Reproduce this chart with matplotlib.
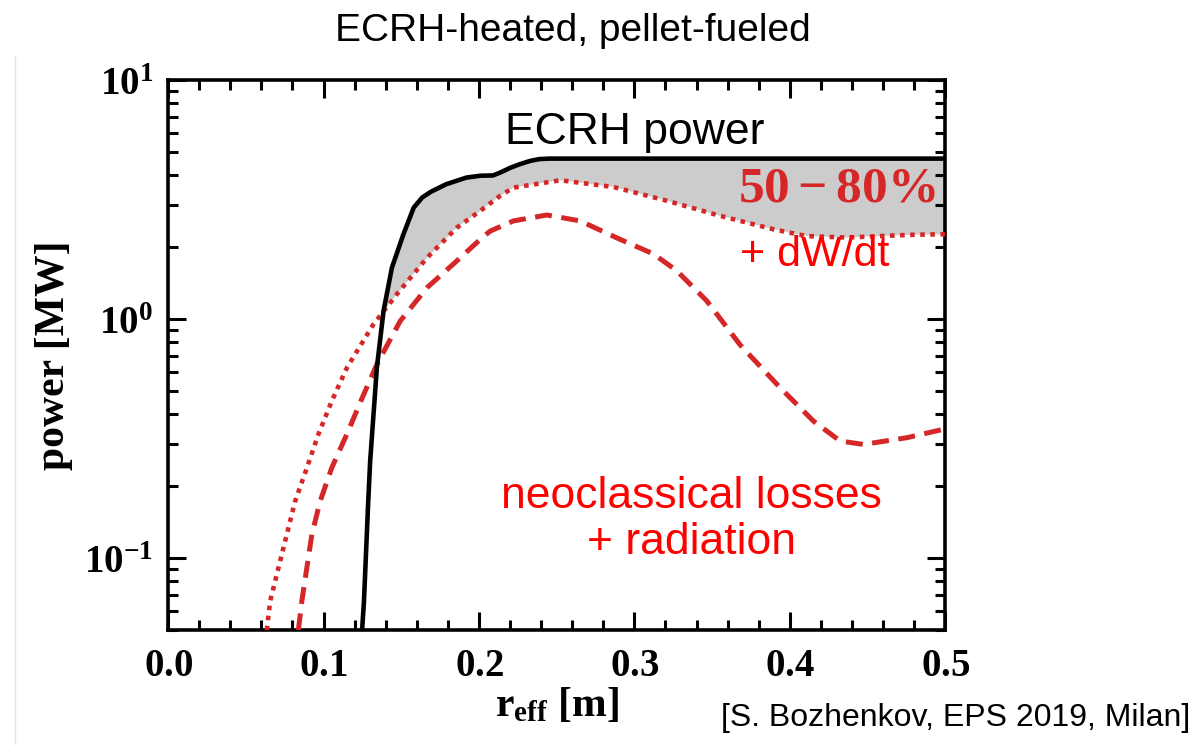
import numpy as np
import matplotlib
matplotlib.use("Agg")
import matplotlib.pyplot as plt
from matplotlib.lines import Line2D

plt.rcParams["mathtext.fontset"] = "custom"
plt.rcParams["mathtext.rm"] = "Liberation Serif:bold"
plt.rcParams["mathtext.bf"] = "Liberation Serif:bold"
plt.rcParams["mathtext.it"] = "Liberation Serif:bold"

SANS = ["Liberation Sans", "DejaVu Sans"]
SERIF = ["Liberation Serif", "DejaVu Serif"]

# ECRH power (black solid)
ecrh_r = [0.1248, 0.126, 0.1287, 0.130, 0.1343, 0.1386, 0.144, 0.1514, 0.158, 0.1635, 0.1690,
          0.179, 0.192, 0.201, 0.209, 0.2136, 0.220, 0.2265, 0.233, 0.239, 0.245, 0.30, 0.40, 0.50]
ecrh_p = [0.05, 0.066, 0.17, 0.255, 0.625, 1.08, 1.64, 2.26, 2.92, 3.22, 3.40,
          3.66, 3.90, 3.97, 3.98, 4.09, 4.28, 4.44, 4.58, 4.66, 4.68, 4.68, 4.68, 4.68]

# neoclassical + radiation + dW/dt (red dotted)
tot_r = [0.0635, 0.0656, 0.0764, 0.0817, 0.0893, 0.0967, 0.1053, 0.1150, 0.1321, 0.1472, 0.1665,
         0.1858, 0.2008, 0.2136, 0.2222, 0.2523, 0.2866, 0.3209, 0.355, 0.3895, 0.411,
         0.4367, 0.4796, 0.50]
tot_p = [0.05, 0.066, 0.126, 0.173, 0.239, 0.330, 0.454, 0.625, 0.95, 1.27, 1.80,
         2.41, 2.83, 3.27, 3.54, 3.80, 3.56, 3.12, 2.70, 2.37, 2.22,
         2.19, 2.25, 2.26]

# neoclassical losses + radiation (red dashed)
neo_r = [0.0838, 0.0860, 0.0925, 0.0978, 0.1053, 0.1150, 0.1240, 0.1343, 0.1493, 0.1665, 0.1858,
         0.2008, 0.2072, 0.2222, 0.2437, 0.2651, 0.2909, 0.3123, 0.3273, 0.3466, 0.368, 0.3938,
         0.4153, 0.4324, 0.4474, 0.4753, 0.4989]
neo_p = [0.05, 0.066, 0.126, 0.173, 0.239, 0.330, 0.454, 0.646, 0.98, 1.35, 1.75,
         2.15, 2.33, 2.57, 2.72, 2.57, 2.15, 1.87, 1.59, 1.19, 0.78, 0.516,
         0.374, 0.309, 0.299, 0.319, 0.346]

red = "#d62728"

fig = plt.figure(figsize=(12.01, 7.45), dpi=100)
ax = fig.add_axes([0.140, 0.154, 0.647, 0.739])

# shaded band between ECRH power and the dotted curve
er = np.array(ecrh_r)
ep = np.array(ecrh_p)
tr = np.array(tot_r)
tp = np.array(tot_p)
mb = er >= 0.1386
mt = tr >= 0.1321
ax.fill(np.concatenate([er[mb], tr[mt][::-1]]),
        np.concatenate([ep[mb], tp[mt][::-1]]),
        color="#cccccc", lw=0, zorder=1)

ax.plot(ecrh_r, ecrh_p, color="black", lw=3.3, zorder=4, solid_joinstyle="round")
ax.plot(tot_r, tot_p, color=red, lw=3.3, ls=(0, (1.0, 1.2)), zorder=3)
ax.plot(neo_r, neo_p, color=red, lw=3.6, ls=(0, (3.4, 1.9)), zorder=3)

ax.set_yscale("log")
ax.set_xlim(0, 0.5)
ax.set_ylim(0.05, 10)

ax.set_xticks([0.0, 0.1, 0.2, 0.3, 0.4, 0.5])
ax.set_xticklabels([r"$0.0$", r"$0.1$", r"$0.2$", r"$0.3$", r"$0.4$", r"$0.5$"])
ax.set_xticks(np.arange(0, 0.501, 0.02), minor=True)
ax.set_yticks([0.1, 1, 10])
ax.set_yticklabels([r"$10^{-1}$", r"$10^{0}$", r"$10^{1}$"])

ax.tick_params(which="both", direction="in", top=True, right=True, width=2.2, labelsize=28)
ax.tick_params(which="major", length=13, pad=11)
ax.tick_params(which="minor", length=7)
for s in ax.spines.values():
    s.set_linewidth(2.6)

ax.set_xlabel(r"$\mathbf{r_{eff}}$ [m]", fontsize=30, family=SERIF, fontweight="bold", labelpad=2)
ax.set_ylabel("power [MW]", fontsize=30, family=SERIF, fontweight="bold", labelpad=8)

ax.text(0.3005, 4.95, "ECRH power", family=SANS, fontsize=32, color="black",
        ha="center", va="bottom")
ax.text(0.4936, 3.53, r"$50 - 80\%$", fontsize=37, color=red, ha="right", va="center")
ax.text(0.416, 1.85, "+ dW/dt", family=SANS, fontsize=31, color="red", ha="center", va="center")
ax.text(0.337, 0.145, "neoclassical losses\n+ radiation", family=SANS, fontsize=32, color="red",
        ha="center", va="center", linespacing=1.15)

fig.text(0.477, 0.958, "ECRH-heated, pellet-fueled", family=SANS, fontsize=28,
         ha="center", va="center")
fig.text(0.991, 0.036, "[S. Bozhenkov, EPS 2019, Milan]", family=SANS, fontsize=23,
         ha="right", va="center")

fig.add_artist(Line2D([0.0125, 0.0125], [0.0, 0.925], transform=fig.transFigure,
                      color="#e6e6e6", lw=1))

fig.savefig("out.png", dpi=100)
